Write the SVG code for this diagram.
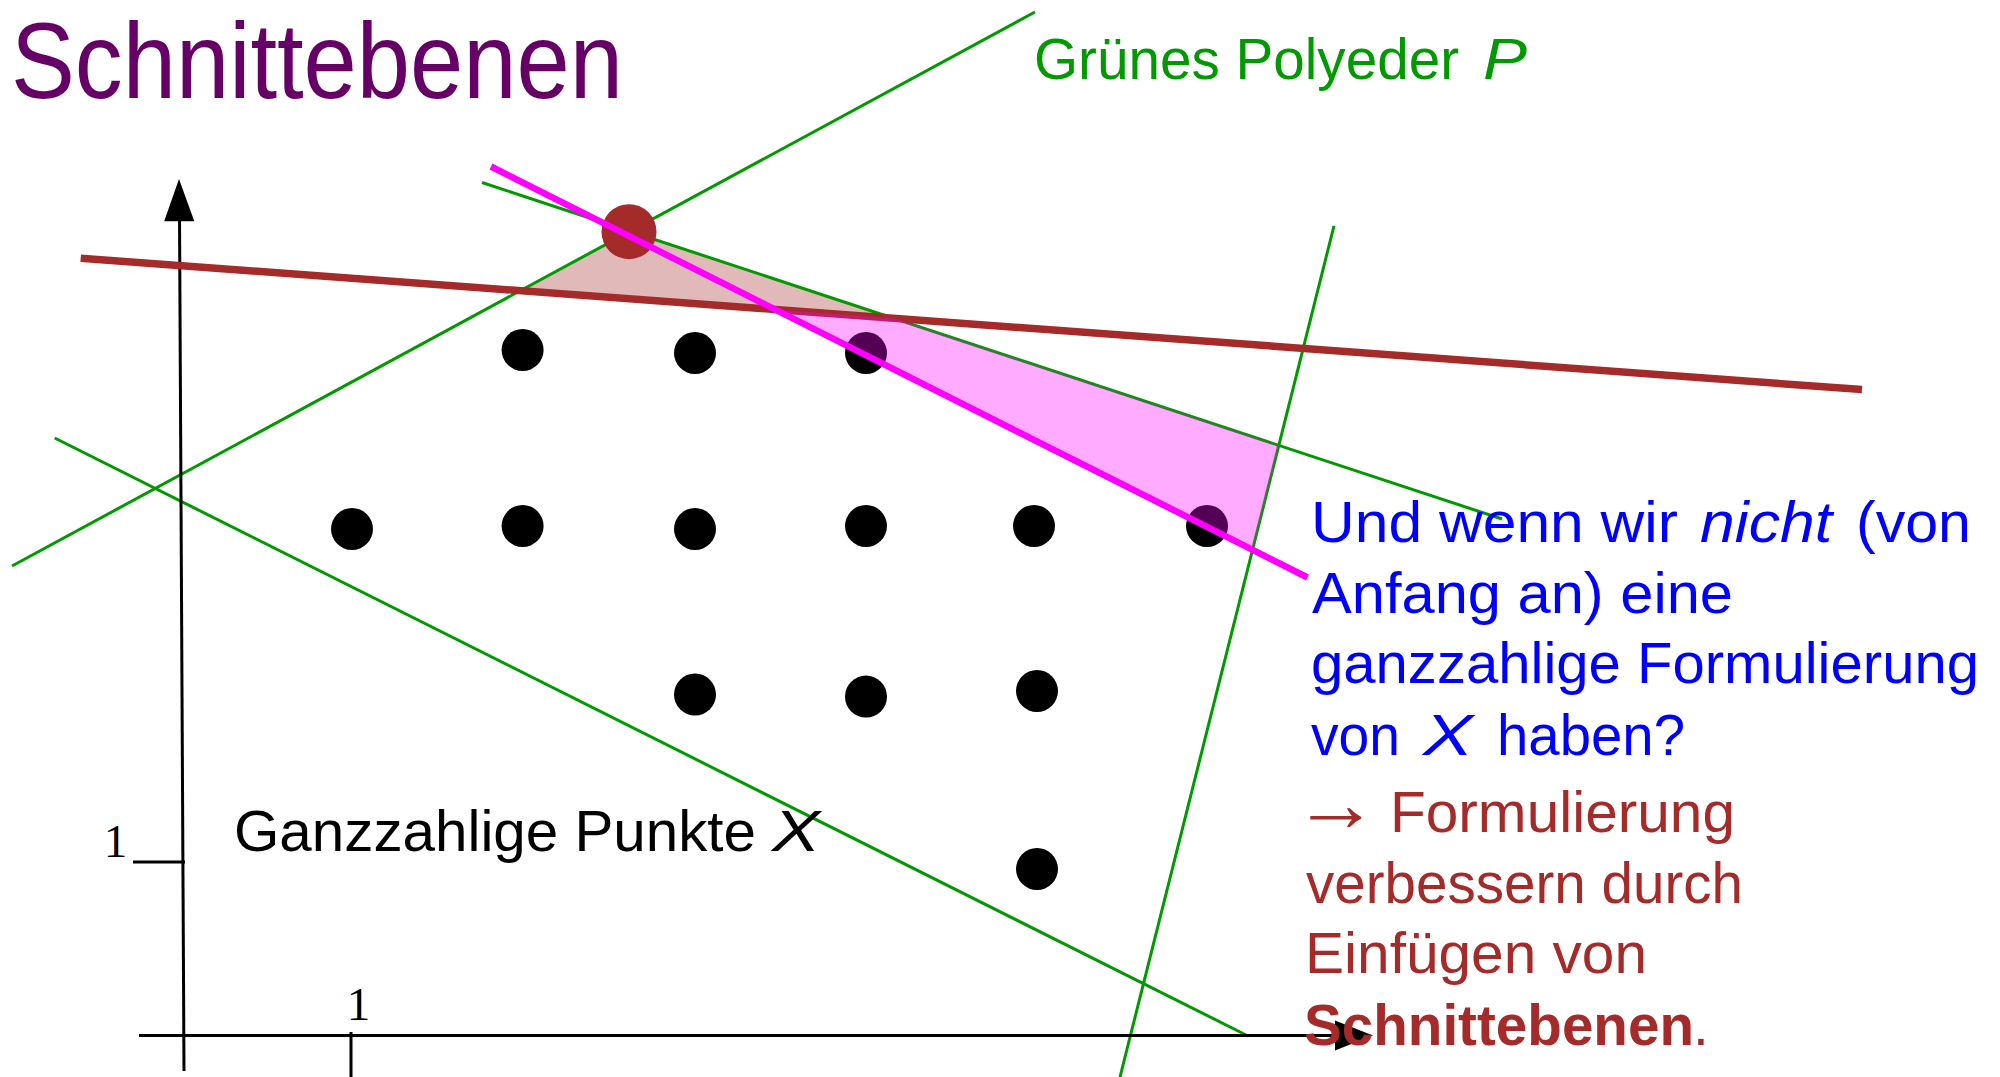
<svg xmlns="http://www.w3.org/2000/svg" width="2000" height="1077" viewBox="0 0 2000 1077">
<style>
.t{font-family:"Liberation Sans","DejaVu Sans",Arial,sans-serif;font-size:57px}
.it{font-style:italic}
.bf{font-weight:bold}
.blue{fill:#0000ff}
.red{fill:#a52a2a}
.green{fill:#009900}
.num{font-family:"Liberation Serif","DejaVu Serif",serif;font-size:47px;fill:#000;text-anchor:middle}
.gl{stroke:#009900;stroke-width:3;fill:none}
.ax{stroke:#000;stroke-width:3;fill:none}
.dot{fill:#000}
</style>
<rect width="2000" height="1077" fill="#fff"/>
<g id="title">
<text x="11" y="98" font-family="Liberation Sans, DejaVu Sans, sans-serif" font-size="107" fill="#660066" textLength="612" lengthAdjust="spacingAndGlyphs">Schnittebenen</text>
</g>
<g id="cut-region-brown">
<polygon points="630,231.4 520.4,290.7 893.2,318.2" fill="#a52a2a" fill-opacity="0.33"/>
</g>
<g id="polyeder-P">
<line class="gl" x1="12" y1="566" x2="1035" y2="12"/>
<line class="gl" x1="482" y1="182.5" x2="1502" y2="519"/>
<line class="gl" x1="1334" y1="225.8" x2="1120" y2="1077"/>
<line class="gl" x1="54.7" y1="438" x2="1248" y2="1036"/>
</g>
<g id="axes">
<line class="ax" x1="184" y1="1071" x2="179.5" y2="215"/>
<polygon points="179,179 164.2,221.2 194.3,221.2" fill="#000"/>
<line class="ax" x1="139" y1="1035.5" x2="1340" y2="1035.5"/>
<polygon points="1373,1035.5 1335,1020.5 1335,1050.5" fill="#000"/>
<line class="ax" x1="351" y1="1032" x2="351" y2="1077"/>
<line class="ax" x1="133" y1="862" x2="185" y2="862"/>
<text class="num" x="358.5" y="1020">1</text>
<text class="num" x="115.5" y="857">1</text>
</g>
<g id="points-X">
<circle class="dot" cx="352" cy="529" r="21"/>
<circle class="dot" cx="522.6" cy="526" r="21"/>
<circle class="dot" cx="695" cy="529" r="21"/>
<circle class="dot" cx="866" cy="526" r="21"/>
<circle class="dot" cx="1034" cy="526" r="21"/>
<circle class="dot" cx="1207" cy="526" r="21"/>
<circle class="dot" cx="522.6" cy="350" r="21"/>
<circle class="dot" cx="695" cy="353" r="21"/>
<circle class="dot" cx="866" cy="353" r="21"/>
<circle class="dot" cx="695" cy="694.5" r="21"/>
<circle class="dot" cx="866" cy="696.6" r="21"/>
<circle class="dot" cx="1037" cy="691" r="21"/>
<circle class="dot" cx="1037" cy="869" r="21"/>
</g>
<g id="cut-lines">
<line x1="80.7" y1="258.3" x2="1862" y2="389.6" stroke="#a52a2a" stroke-width="7.5"/>
<polygon id="cut-region-pink" points="775.1,309.5 893.2,318.2 1278.8,445.4 1252.5,549.8" fill="#ff00ff" fill-opacity="0.33"/>
<circle id="vertex" cx="629" cy="231.7" r="27.5" fill="#a52a2a"/>
<line x1="491" y1="166.5" x2="1307.5" y2="577.5" stroke="#ff00ff" stroke-width="6.5"/>
</g>
<g id="label-P">
<text class="t green" x="1034" y="78.5" textLength="425" lengthAdjust="spacingAndGlyphs">Grünes Polyeder</text>
<text class="t green it" x="1483" y="78.5" textLength="44" lengthAdjust="spacingAndGlyphs">P</text>
</g>
<g id="label-X">
<text class="t" x="234" y="851" fill="#000" textLength="522" lengthAdjust="spacingAndGlyphs">Ganzzahlige Punkte</text>
<text class="t it" x="772" y="851" fill="#000" textLength="48" lengthAdjust="spacingAndGlyphs">X</text>
</g>
<g id="question">
<text class="t blue" x="1311" y="542.3" textLength="367" lengthAdjust="spacingAndGlyphs">Und wenn wir</text>
<text class="t blue it" x="1700" y="542.3" textLength="132" lengthAdjust="spacingAndGlyphs">nicht</text>
<text class="t blue" x="1856" y="542.3" textLength="115" lengthAdjust="spacingAndGlyphs">(von</text>
<text class="t blue" x="1312" y="613.3" textLength="421" lengthAdjust="spacingAndGlyphs">Anfang an) eine</text>
<text class="t blue" x="1311" y="683.3" textLength="668" lengthAdjust="spacingAndGlyphs">ganzzahlige Formulierung</text>
<text class="t blue" x="1311" y="755" textLength="89" lengthAdjust="spacingAndGlyphs">von</text>
<text class="t blue it" x="1423" y="755" textLength="50" lengthAdjust="spacingAndGlyphs">X</text>
<text class="t blue" x="1497" y="755" textLength="188" lengthAdjust="spacingAndGlyphs">haben?</text>
</g>
<g id="answer">
<text x="1293" y="831" font-family="Liberation Serif, DejaVu Serif, serif" font-size="80" fill="#a52a2a" textLength="86" lengthAdjust="spacingAndGlyphs">→</text>
<text class="t red" x="1390" y="832.3" textLength="345" lengthAdjust="spacingAndGlyphs">Formulierung</text>
<text class="t red" x="1306" y="903.3" textLength="437" lengthAdjust="spacingAndGlyphs">verbessern durch</text>
<text class="t red" x="1305" y="973.3" textLength="342" lengthAdjust="spacingAndGlyphs">Einfügen von</text>
<text class="t red bf" x="1304" y="1045" textLength="390" lengthAdjust="spacingAndGlyphs">Schnittebenen</text>
<text class="t red" x="1693" y="1045">.</text>
</g>
</svg>
